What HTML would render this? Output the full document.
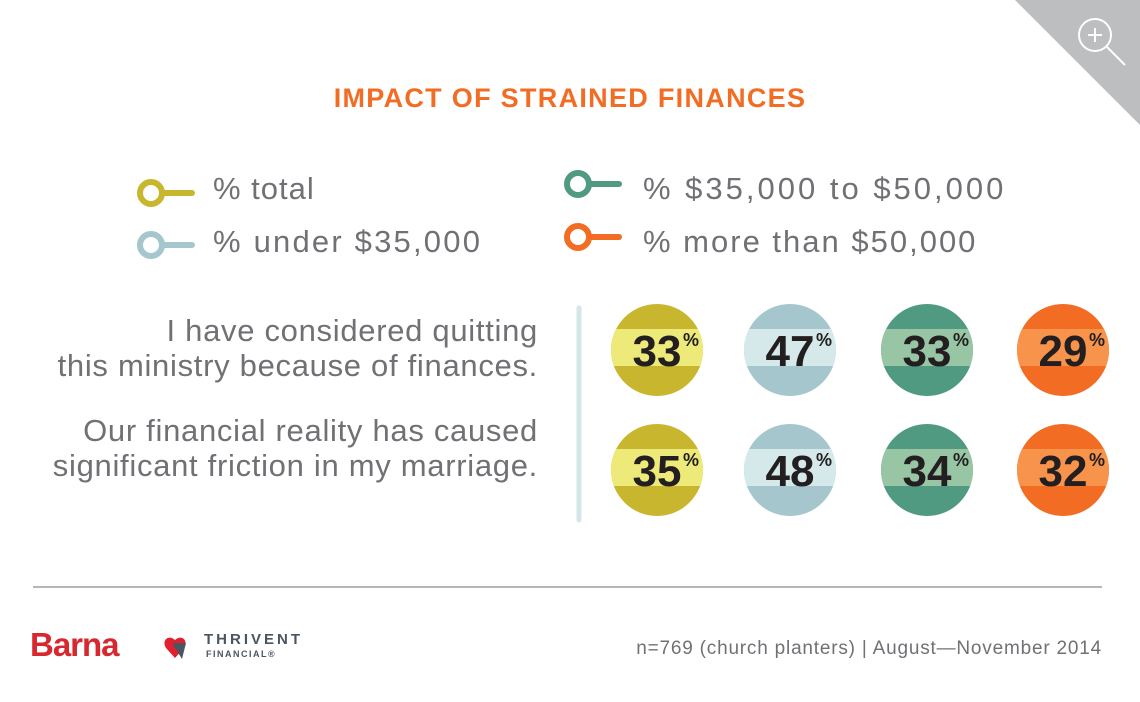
<!DOCTYPE html>
<html><head><style>
body{margin:0;width:1140px;height:702px;background:#fff;position:relative;overflow:hidden;font-family:"Liberation Sans",sans-serif}
.t{position:absolute;color:#707174;white-space:nowrap}
</style></head><body>
<svg width="1140" height="702" style="position:absolute;left:0;top:0">
<polygon points="1015,0 1140,0 1140,125" fill="#bcbec0"/>
<circle cx="1095" cy="35" r="16" fill="none" stroke="#fff" stroke-width="2"/>
<line x1="1107" y1="47" x2="1125" y2="65" stroke="#fff" stroke-width="2"/>
<line x1="1088" y1="35" x2="1102" y2="35" stroke="#fff" stroke-width="2"/>
<line x1="1095" y1="28" x2="1095" y2="42" stroke="#fff" stroke-width="2"/>
<g stroke-width="6" fill="none" stroke-linecap="round">
<circle cx="151" cy="193" r="11" stroke="#c8b72e"/><line x1="163" y1="193" x2="192" y2="193" stroke="#c8b72e"/>
<circle cx="151" cy="245" r="11" stroke="#a5c6cc"/><line x1="163" y1="245" x2="192" y2="245" stroke="#a5c6cc"/>
<circle cx="578" cy="184" r="11" stroke="#4f9a81"/><line x1="590" y1="184" x2="619" y2="184" stroke="#4f9a81"/>
<circle cx="578" cy="237" r="11" stroke="#f26c23"/><line x1="590" y1="237" x2="619" y2="237" stroke="#f26c23"/>
</g>
<line x1="579" y1="308" x2="579" y2="520" stroke="#d3e6e8" stroke-width="5" stroke-linecap="round"/>
<defs>
<clipPath id="c1"><circle cx="0" cy="0" r="46"/></clipPath>
</defs>
<g font-family="Liberation Sans" font-weight="bold" fill="#231f20">
<g transform="translate(657,350)"><g clip-path="url(#c1)"><rect x="-46" y="-46" width="92" height="92" fill="#c8b72e"/><rect x="-46" y="-21" width="92" height="37" fill="#eeea7a"/></g><text x="0" y="16" font-size="44" text-anchor="middle">33</text><text x="26" y="-4" font-size="18">%</text></g>
<g transform="translate(790,350)"><g clip-path="url(#c1)"><rect x="-46" y="-46" width="92" height="92" fill="#a5c6cc"/><rect x="-46" y="-21" width="92" height="37" fill="#d5e9ea"/></g><text x="0" y="16" font-size="44" text-anchor="middle">47</text><text x="26" y="-4" font-size="18">%</text></g>
<g transform="translate(927,350)"><g clip-path="url(#c1)"><rect x="-46" y="-46" width="92" height="92" fill="#4f9a81"/><rect x="-46" y="-21" width="92" height="37" fill="#98c6a4"/></g><text x="0" y="16" font-size="44" text-anchor="middle">33</text><text x="26" y="-4" font-size="18">%</text></g>
<g transform="translate(1063,350)"><g clip-path="url(#c1)"><rect x="-46" y="-46" width="92" height="92" fill="#f26c23"/><rect x="-46" y="-21" width="92" height="37" fill="#f7934b"/></g><text x="0" y="16" font-size="44" text-anchor="middle">29</text><text x="26" y="-4" font-size="18">%</text></g>
<g transform="translate(657,470)"><g clip-path="url(#c1)"><rect x="-46" y="-46" width="92" height="92" fill="#c8b72e"/><rect x="-46" y="-21" width="92" height="37" fill="#eeea7a"/></g><text x="0" y="16" font-size="44" text-anchor="middle">35</text><text x="26" y="-4" font-size="18">%</text></g>
<g transform="translate(790,470)"><g clip-path="url(#c1)"><rect x="-46" y="-46" width="92" height="92" fill="#a5c6cc"/><rect x="-46" y="-21" width="92" height="37" fill="#d5e9ea"/></g><text x="0" y="16" font-size="44" text-anchor="middle">48</text><text x="26" y="-4" font-size="18">%</text></g>
<g transform="translate(927,470)"><g clip-path="url(#c1)"><rect x="-46" y="-46" width="92" height="92" fill="#4f9a81"/><rect x="-46" y="-21" width="92" height="37" fill="#98c6a4"/></g><text x="0" y="16" font-size="44" text-anchor="middle">34</text><text x="26" y="-4" font-size="18">%</text></g>
<g transform="translate(1063,470)"><g clip-path="url(#c1)"><rect x="-46" y="-46" width="92" height="92" fill="#f26c23"/><rect x="-46" y="-21" width="92" height="37" fill="#f7934b"/></g><text x="0" y="16" font-size="44" text-anchor="middle">32</text><text x="26" y="-4" font-size="18">%</text></g>
</g>
<line x1="33" y1="587" x2="1102" y2="587" stroke="#6d6e71" stroke-width="1"/>
<path d="M175 640 c-6-6-14 0-9 8 l9 10 l9-10 c5-8-3-14-9-8z" fill="#e0202e"/>
<path d="M172 643 l14 0 l-4 16 z" fill="#4a5560"/>
</svg>
<div class="t" style="left:0;width:1140px;top:83px;text-align:center;color:#f26c23;font-weight:bold;font-size:27px;letter-spacing:1.3px">IMPACT OF STRAINED FINANCES</div>
<div class="t" style="left:213px;top:171px;font-size:31px;letter-spacing:1px">% total</div>
<div class="t" style="left:213px;top:224px;font-size:31px;letter-spacing:2.2px">% under $35,000</div>
<div class="t" style="left:643px;top:171px;font-size:31px;letter-spacing:3px">% $35,000 to $50,000</div>
<div class="t" style="left:643px;top:224px;font-size:31px;letter-spacing:2px">% more than $50,000</div>
<div class="t" style="right:602px;top:313px;font-size:31px;text-align:right;line-height:35px;letter-spacing:0.7px">I have considered quitting<br>this ministry because of finances.</div>
<div class="t" style="right:602px;top:413px;font-size:31px;text-align:right;line-height:35px;letter-spacing:0.7px">Our financial reality has caused<br>significant friction in my marriage.</div>
<div class="t" style="left:30px;top:626px;font-size:33px;font-weight:bold;color:#d7282f;letter-spacing:-1px">Barna</div>
<div class="t" style="left:204px;top:631px;font-size:15px;font-weight:bold;color:#4a5560;letter-spacing:3px">THRIVENT</div>
<div class="t" style="left:206px;top:649px;font-size:9px;font-weight:bold;color:#4a5560;letter-spacing:1.5px">FINANCIAL®</div>
<div class="t" style="right:38px;top:638px;font-size:19px;letter-spacing:0.8px">n=769 (church planters) | August—November 2014</div>
</body></html>
